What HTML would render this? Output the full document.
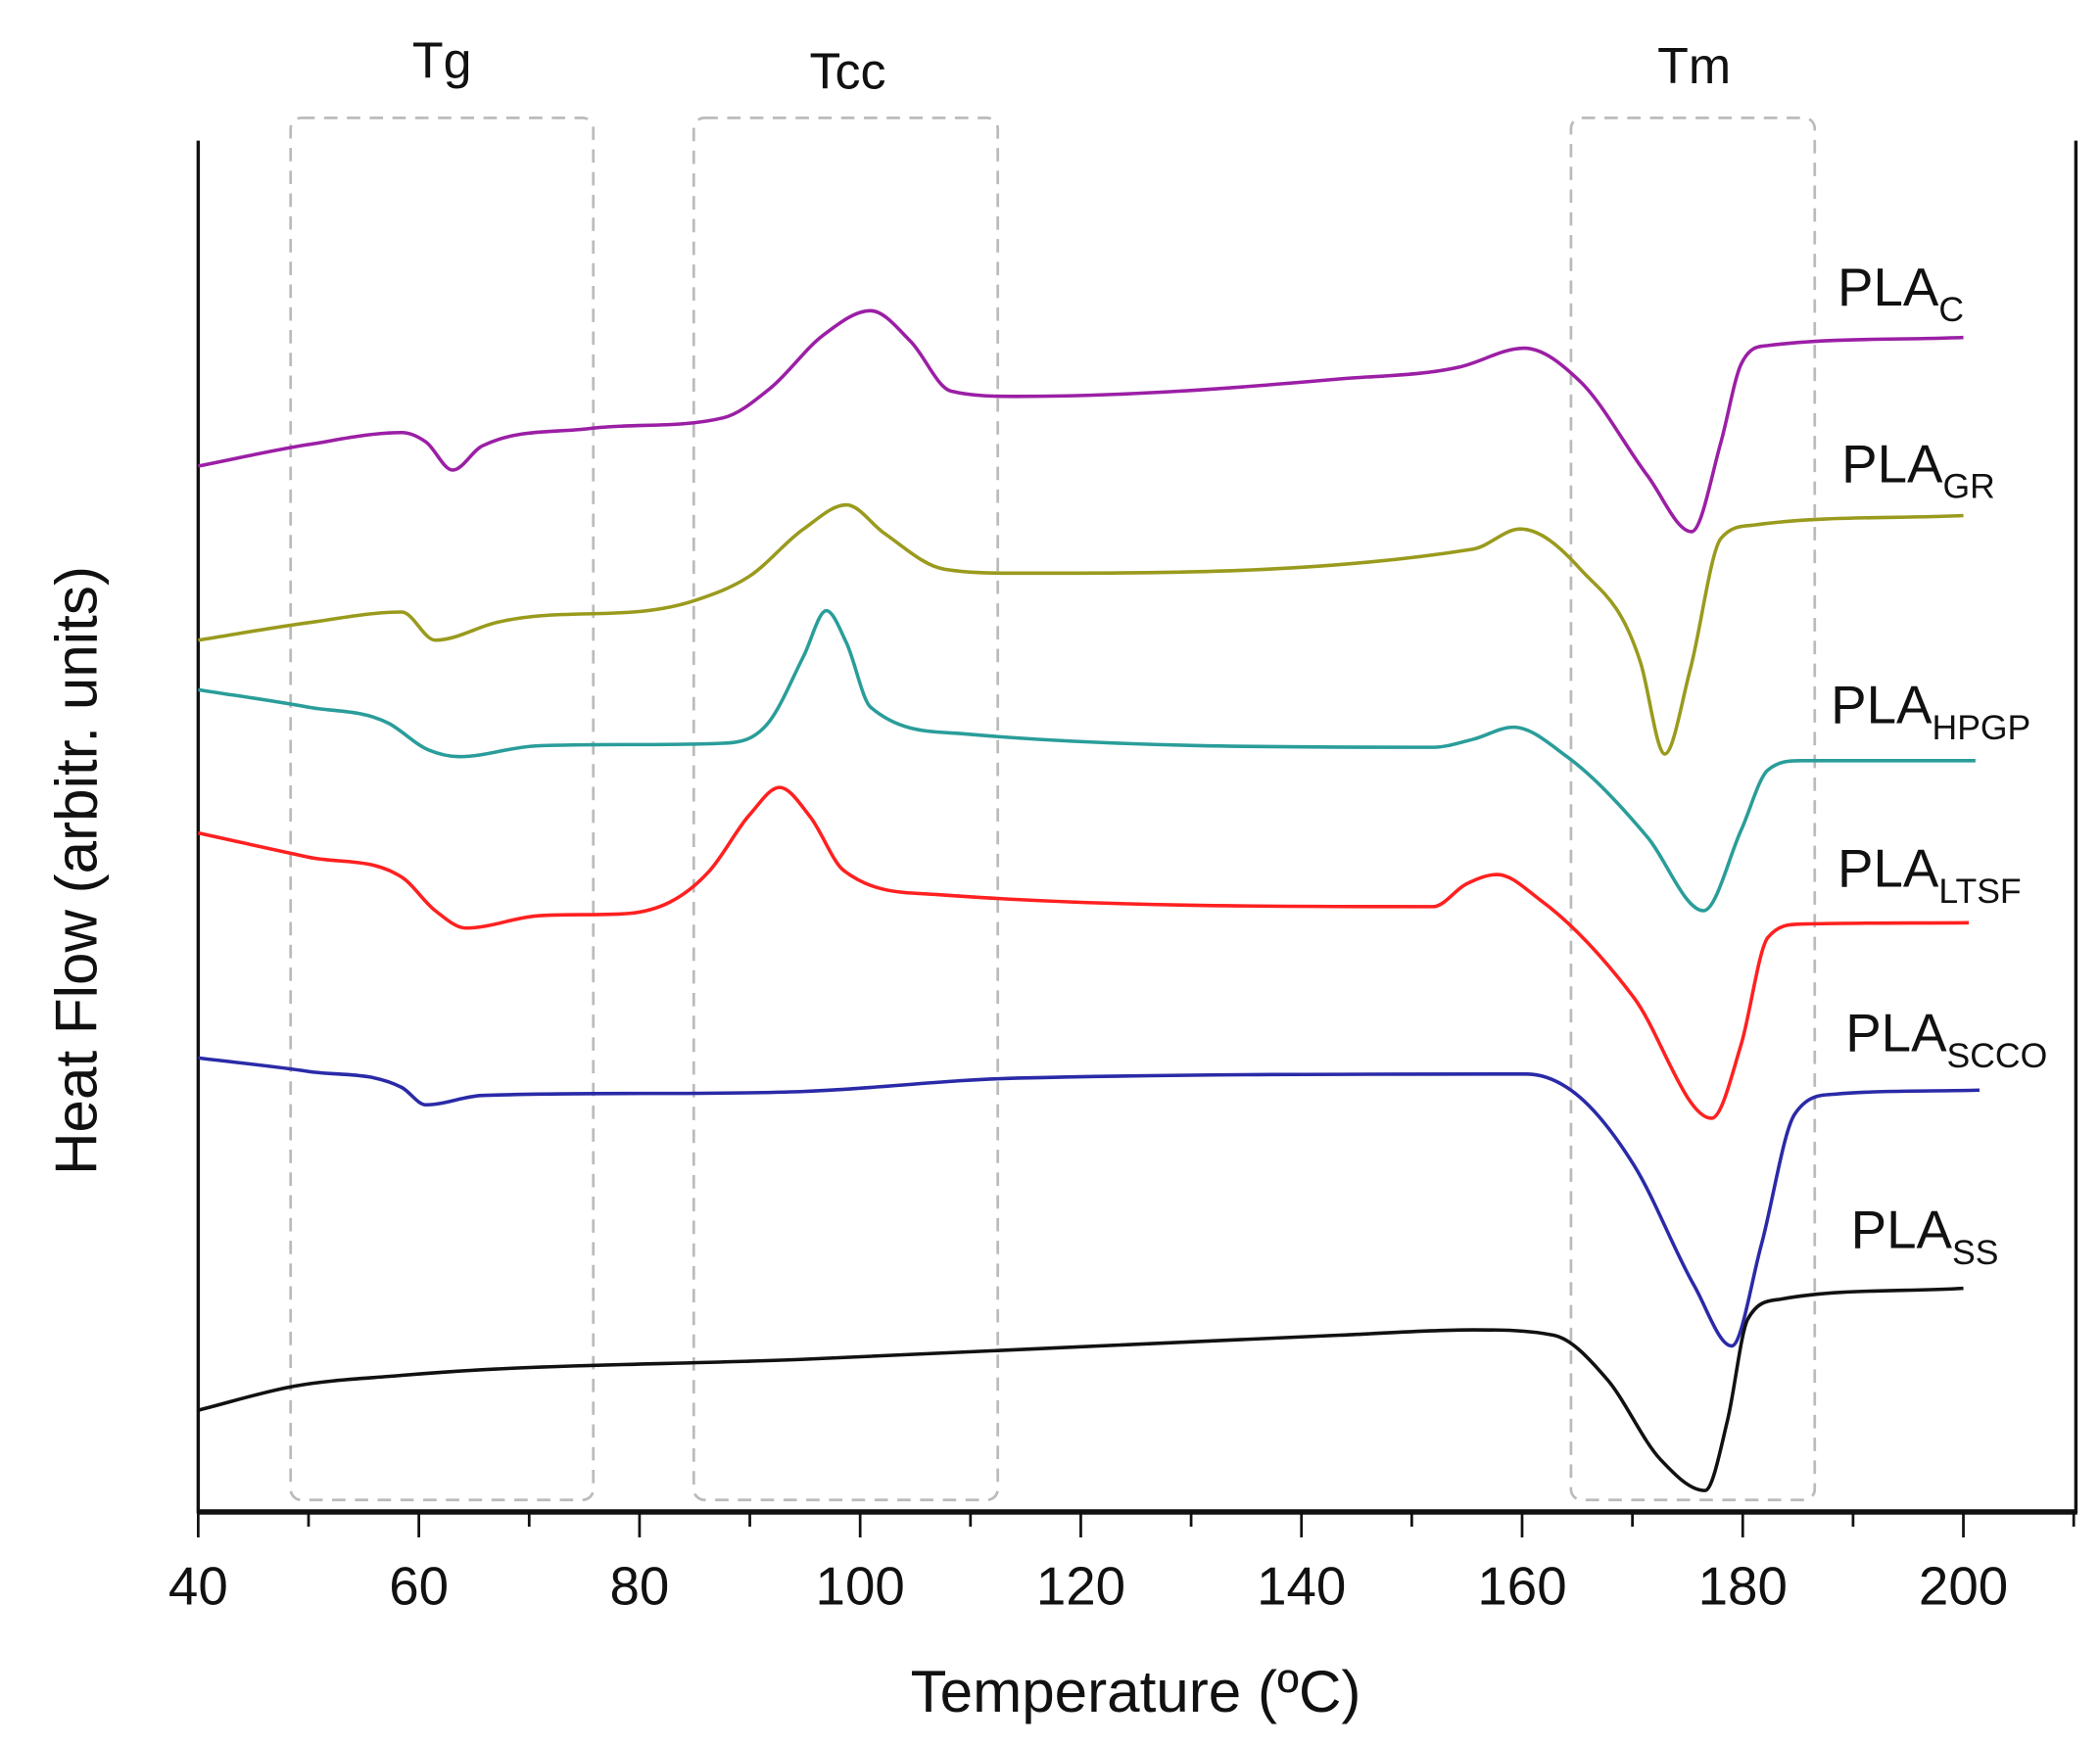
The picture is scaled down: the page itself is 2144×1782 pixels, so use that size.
<!DOCTYPE html>
<html><head><meta charset="utf-8"><style>
html,body{margin:0;padding:0;background:#fff;}
svg{display:block;}
text{font-family:"Liberation Sans",Arial,sans-serif;fill:#111;}
</style></head><body>
<svg id="s" width="2144" height="1782" viewBox="0 0 1568 1303" preserveAspectRatio="none" xmlns="http://www.w3.org/2000/svg">
<rect width="1568" height="1303" fill="#fff"/>
<g fill="none" stroke="#bbb" stroke-width="2" stroke-dasharray="10,7">
<rect x="217" y="88" width="226" height="1032" rx="8"/>
<rect x="518" y="88" width="227" height="1032" rx="8"/>
<rect x="1173" y="88" width="182" height="1032" rx="8"/>
</g>
<g stroke="#111" stroke-width="2.5" fill="none">
<line x1="148" y1="105" x2="148" y2="1130"/>
<line x1="1550" y1="105" x2="1550" y2="1130"/>
<line x1="147" y1="1129" x2="1551" y2="1129" stroke-width="4"/>
</g>
<g id="ticks" stroke="#111" stroke-width="2"></g>
<g font-size="40" text-anchor="middle" id="tl"></g>
<text x="848" y="1278" font-size="44" text-anchor="middle">Temperature (ºC)</text>
<text transform="translate(72,650) rotate(-90)" font-size="44" text-anchor="middle">Heat Flow (arbitr. units)</text>
<text x="330" y="58" font-size="38" text-anchor="middle">Tg</text>
<text x="633" y="66" font-size="38" text-anchor="middle">Tcc</text>
<text x="1265" y="62" font-size="38" text-anchor="middle">Tm</text>
<g id="curves" fill="none" stroke-width="2.6" stroke-linejoin="round"></g>
<g font-size="40">
<text x="1372" y="228">PLA<tspan font-size="26" dy="12">C</tspan></text>
<text x="1375" y="360">PLA<tspan font-size="26" dy="12">GR</tspan></text>
<text x="1367" y="540">PLA<tspan font-size="26" dy="12">HPGP</tspan></text>
<text x="1372" y="662">PLA<tspan font-size="26" dy="12">LTSF</tspan></text>
<text x="1378" y="785">PLA<tspan font-size="26" dy="12">SCCO</tspan></text>
<text x="1382" y="932">PLA<tspan font-size="26" dy="12">SS</tspan></text>
</g>
</svg>
<script>
var NS="http://www.w3.org/2000/svg";
function X(t){return 148+(t-40)*8.2375;}
var tk=document.getElementById('ticks'),tl=document.getElementById('tl');
for(var t=40;t<=210;t+=10){var l=document.createElementNS(NS,'line');var x=X(t);
l.setAttribute('x1',x);l.setAttribute('x2',x);l.setAttribute('y1',1129);l.setAttribute('y2',t%20==0?1148:1140);tk.appendChild(l);
if(t%20==0&&t<=200){var tx=document.createElementNS(NS,'text');tx.setAttribute('x',x);tx.setAttribute('y',1198);tx.textContent=t;tl.appendChild(tx);}}
function mono(p){var n=p.length,s=[],h=[],m=[];
for(var i=0;i<n-1;i++){h[i]=p[i+1][0]-p[i][0];s[i]=(p[i+1][1]-p[i][1])/h[i];}
m[0]=s[0];m[n-1]=s[n-2];
for(i=1;i<n-1;i++){if(s[i-1]*s[i]<=0)m[i]=0;else{var v=(s[i-1]*h[i]+s[i]*h[i-1])/(h[i-1]+h[i]);var lim=3*Math.min(Math.abs(s[i-1]),Math.abs(s[i]));m[i]=Math.sign(v)*Math.min(Math.abs(v),lim);}}
var d='M'+p[0][0]+','+p[0][1];
for(i=0;i<n-1;i++){var dx=h[i]/3;d+=' C'+(p[i][0]+dx)+','+(p[i][1]+m[i]*dx)+' '+(p[i+1][0]-dx)+','+(p[i+1][1]-m[i+1]*dx)+' '+p[i+1][0]+','+p[i+1][1];}
return d;}
var S=[
['#9b1fa5',[[148,348],[230,332],[300,323],[318,330],[338,351],[360,333],[440,320],[540,312],[575,290],[615,250],[650,232],[680,255],[710,292],[760,296],[1000,283],[1090,274],[1138,260],[1180,285],[1230,355],[1263,397],[1285,330],[1300,272],[1320,258],[1466,252]]],
['#9a9a1e',[[148,478],[230,465],[300,457],[325,478],[370,465],[520,448],[560,430],[600,395],[632,377],[660,398],[705,425],[760,428],[1100,410],[1135,395],[1180,425],[1225,495],[1243,563],[1262,500],[1285,402],[1310,392],[1466,385]]],
['#2a9d9a',[[148,515],[230,528],[290,540],[320,560],[343,565],[400,557],[540,555],[575,538],[600,490],[617,456],[632,480],[650,528],[720,548],[1070,558],[1100,552],[1130,543],[1170,565],[1230,625],[1272,680],[1300,620],[1320,575],[1345,568],[1475,568]]],
['#ff2020',[[148,622],[230,640],[300,655],[325,680],[348,693],[400,684],[470,682],[530,650],[560,608],[582,588],[605,610],[630,650],[700,668],[1070,677],[1095,660],[1118,653],[1150,672],[1220,745],[1278,835],[1300,780],[1320,700],[1345,690],[1470,689]]],
['#2a2aa8',[[148,790],[230,800],[300,812],[318,825],[360,818],[600,815],[760,805],[1140,802],[1170,812],[1220,870],[1265,960],[1293,1005],[1315,930],[1340,832],[1370,817],[1478,814]]],
['#111',[[148,1053],[220,1035],[300,1027],[600,1015],[1000,997],[1100,993],[1160,997],[1200,1030],[1240,1090],[1273,1113],[1290,1060],[1305,985],[1330,970],[1466,962]]]
];
var g=document.getElementById('curves');
S.forEach(function(s){var p=document.createElementNS(NS,'path');p.setAttribute('d',mono(s[1]));p.setAttribute('stroke',s[0]);g.appendChild(p);});
</script>
</body></html>
